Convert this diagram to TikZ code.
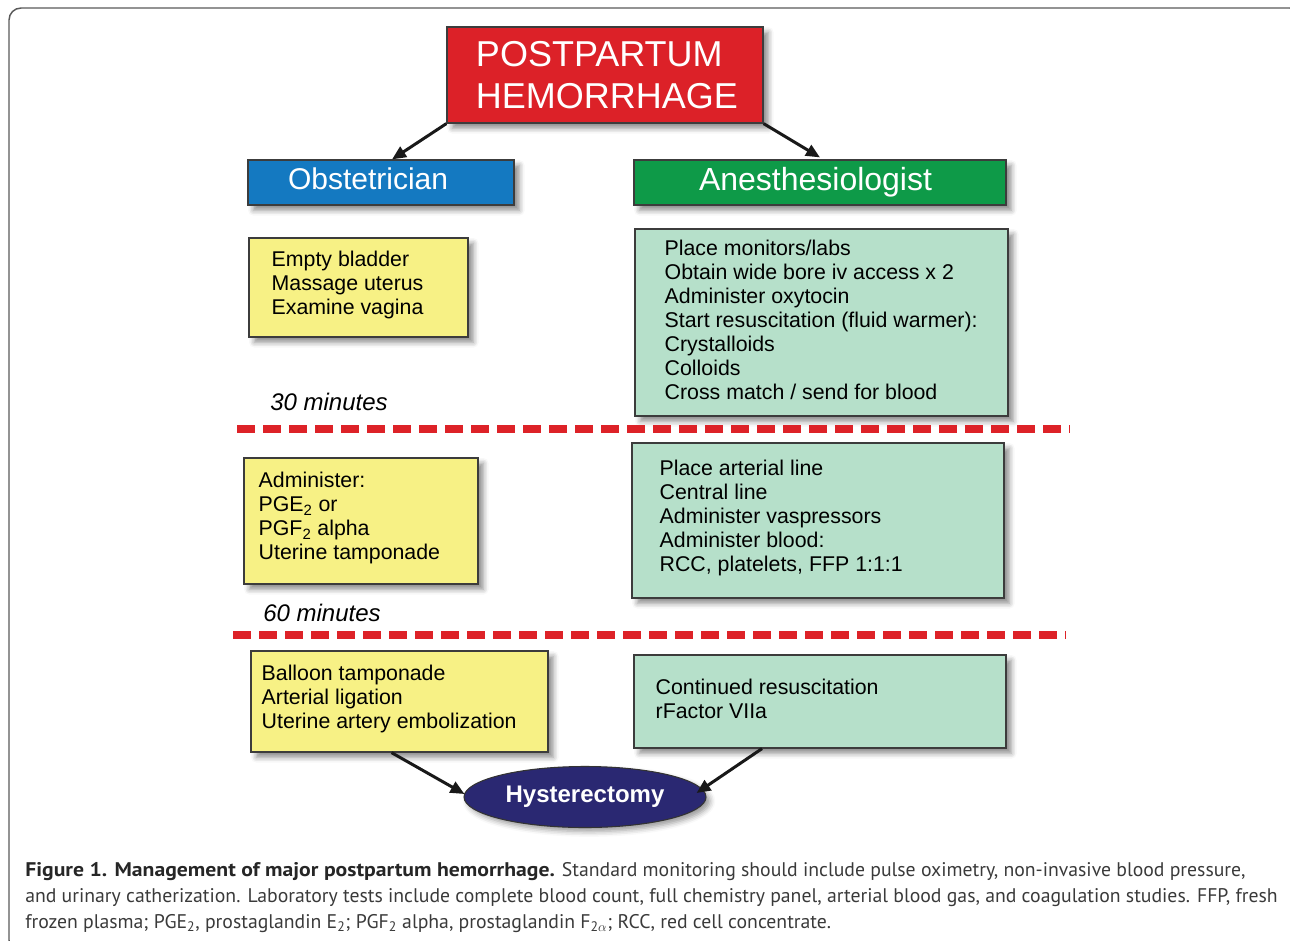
\documentclass[tikz,border=0pt]{standalone}
\usepackage{fontspec}
\setmainfont{Liberation Sans}
\newfontfamily\capfont{PT Sans}
\usetikzlibrary{arrows.meta,shapes.geometric,shadows.blur}
\def\pxu{0.75pt}
\definecolor{titlered}{HTML}{DC2128}
\definecolor{obsblue}{HTML}{1479C1}
\definecolor{anegreen}{HTML}{0E9A48}
\definecolor{boxyellow}{HTML}{F7F185}
\definecolor{boxgreen}{HTML}{B6E0CA}
\definecolor{navy}{HTML}{2A2872}
\definecolor{dashred}{HTML}{DD2228}
\definecolor{edgegray}{HTML}{3C3C3C}
\definecolor{capgray}{HTML}{3A3A3A}
\tikzset{
  panel/.style={draw=edgegray, line width=0.9pt, inner sep=0pt,
    blur shadow={shadow xshift=4pt, shadow yshift=-4pt, shadow blur radius=4pt, shadow opacity=45}},
  ybox/.style={panel, fill=boxyellow},
  gbox/.style={panel, fill=boxgreen},
  head/.style={panel, text=white, align=left},
  boxtext/.style={font=\fontsize{16}{18}\selectfont, align=left, anchor=west, inner sep=0pt, yshift=2pt},
  mins/.style={font=\fontsize{18}{21}\selectfont\itshape, anchor=base west, inner sep=0pt},
  dashline/.style={draw=dashred, line width=6pt, dash pattern=on 13.5pt off 6pt},
  arr/.style={draw=black!90, line width=2.25pt, -{Triangle[length=10.5pt,width=9pt]}},
  capline/.style={font=\capfont\fontsize{14.8}{19.5}\selectfont, text=capgray, anchor=base west, inner sep=0pt},
  frame/.style={draw=black!65, line width=1.1pt, rounded corners=9pt}
}
\begin{document}
\begin{tikzpicture}[x=0.75pt,y=-0.75pt]
\useasboundingbox (0,0) rectangle (1290,940);
\draw[frame] (9,8) rectangle (1302,952);

% title and headers
\node[panel, fill=titlered, text=white, align=left, minimum width=316*\pxu, minimum height=96*\pxu,
      font=\fontsize{27}{31}\selectfont] (title) at (605,75) {\hspace*{3pt}POSTPARTUM\\\hspace*{3pt}HEMORRHAGE};
\node[head, fill=obsblue, text width=186*\pxu, inner xsep=40*\pxu, minimum height=45*\pxu, text depth=6pt,
      font=\fontsize{22.5}{26}\selectfont] (obs) at (381,182.5) {Obstetrician};
\node[head, fill=anegreen, text width=242*\pxu, inner xsep=65*\pxu, minimum height=45*\pxu,
      font=\fontsize{24}{27}\selectfont] (ane) at (820,182.5) {Anesthesiologist};

\draw[arr] (title.south west) -- ([xshift=11*\pxu]obs.north);
\draw[arr] (title.south east) -- ([yshift=2*\pxu]ane.north);

% first stage
\node[ybox, minimum width=219*\pxu, minimum height=99*\pxu] (y1) at (358.5,287.5) {};
\node[boxtext] (y1t) at ([xshift=23*\pxu]y1.west) {Empty bladder\\Massage uterus\\Examine vagina};
\node[gbox, minimum width=373*\pxu, minimum height=187*\pxu] (g1) at (821.5,322.5) {};
\node[boxtext] (g1t) at ([xshift=30*\pxu]g1.west) {Place monitors/labs\\Obtain wide bore iv access x 2\\Administer oxytocin\\Start resuscitation (fluid warmer):\\Crystalloids\\Colloids\\Cross match / send for blood};
\node[mins] (m30) at (270,410) {30 minutes};
\draw[dashline] (237,429) -- (1070,429);

% second stage
\node[ybox, minimum width=234*\pxu, minimum height=126*\pxu] (y2) at (361,521) {};
\node[boxtext] (y2t) at ([xshift=15*\pxu]y2.west) {Administer:\\PGE\textsubscript{2} or\\PGF\textsubscript{2} alpha\\Uterine tamponade};
\node[gbox, minimum width=372*\pxu, minimum height=155*\pxu] (g2) at (818,520.5) {};
\node[boxtext] (g2t) at ([xshift=28*\pxu]g2.west) {Place arterial line\\Central line\\Administer vaspressors\\Administer blood:\\RCC, platelets, FFP 1:1:1};
\node[mins] (m60) at (263,621) {60 minutes};
\draw[dashline] (233,635) -- (1066,635);

% third stage
\node[ybox, minimum width=297*\pxu, minimum height=101*\pxu] (y3) at (399.5,701.5) {};
\node[boxtext] (y3t) at ([xshift=11*\pxu]y3.west) {Balloon tamponade\\Arterial ligation\\Uterine artery embolization};
\node[gbox, minimum width=372*\pxu, minimum height=93*\pxu] (g3) at (820,701.5) {};
\node[boxtext] (g3t) at ([xshift=22*\pxu]g3.west) {Continued resuscitation\\rFactor VIIa};

\node[ellipse, draw=black!80, line width=0.8pt, fill=navy, text=white, inner sep=0pt,
      minimum width=242*\pxu, minimum height=61*\pxu, font=\fontsize{18}{21}\selectfont\bfseries,
      blur shadow={shadow xshift=3pt, shadow yshift=-3pt, shadow blur radius=4pt, shadow opacity=40}]
      (hyst) at (585,797) {Hysterectomy};
\draw[arr] ([xshift=-8*\pxu]y3.south) -- ([xshift=1*\pxu, yshift=3*\pxu]hyst.west);
\draw[arr] ([xshift=-58*\pxu]g3.south) -- ([xshift=-10*\pxu, yshift=4*\pxu]hyst.east);

% caption
\node[capline] (cap1) at (25,876) {{\bfseries\addfontfeatures{FakeStretch=1.1}\color{black!85}Figure 1. Management of major postpartum hemorrhage.} Standard monitoring should include pulse oximetry, non-invasive blood pressure,};
\node[capline] (cap2) at (25,902) {and urinary catherization. Laboratory tests include complete blood count, full chemistry panel, arterial blood gas, and coagulation studies. FFP, fresh};
\node[capline] (cap3) at (25,928) {frozen plasma; PGE\textsubscript{2}, prostaglandin E\textsubscript{2}; PGF\textsubscript{2} alpha, prostaglandin F\textsubscript{2$\alpha$}; RCC, red cell concentrate.};
\end{tikzpicture}
\end{document}
